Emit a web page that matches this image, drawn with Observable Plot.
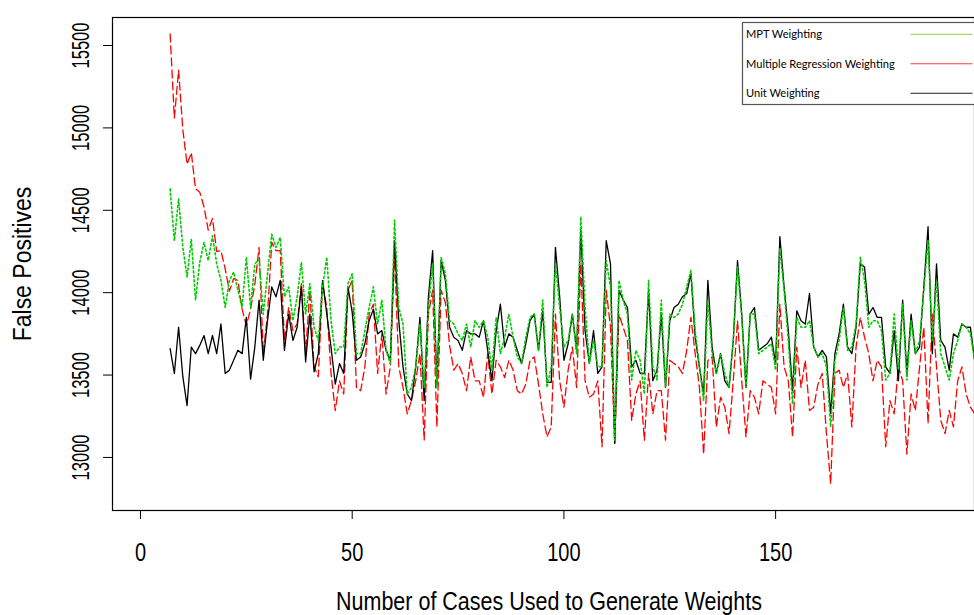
<!DOCTYPE html>
<html><head><meta charset="utf-8">
<script src="https://cdn.jsdelivr.net/npm/d3@7"></script>
<script src="https://cdn.jsdelivr.net/npm/@observablehq/plot@0.6"></script>
<style>
html,body{margin:0;padding:0;background:#fff;overflow:hidden;}
</style></head><body><div id="chart"></div>
<script>
// x = number of cases, starting at 7, one value per case
const xStart = 7;
// Multiple Regression Weighting (red dashed)
const regression = [15570,15060,15350,14990,14780,14850,14630,14610,14520,14380,14450,14250,14255,14145,14010,14085,14075,13900,13800,13900,14050,14275,13630,13870,14305,14255,14255,13710,13910,13770,13810,14055,13630,14015,13550,13490,14055,13910,13510,13285,13465,13385,14015,14075,13425,13405,13550,13870,13930,13510,13750,13385,13550,14235,13550,13425,13265,13345,13465,13630,13105,13870,14015,13185,14015,13940,13680,13530,13570,13510,13405,13610,13465,13465,13365,13630,13385,13590,13550,13485,13590,13530,13405,13385,13445,13590,13610,13445,13265,13125,13185,13870,13465,13305,13530,13670,13425,14175,13465,13365,13385,13465,13065,14015,13790,13085,13870,13790,13710,13225,13385,13465,13105,13510,13265,13405,13405,13105,13590,13570,13550,13510,13650,13850,13630,13425,13020,13590,13610,13185,13365,13305,13145,13465,13830,13465,13125,13405,13365,13265,13465,13445,13425,13265,13930,13550,13465,13125,13670,13425,13590,13285,13305,13445,13510,13145,12840,13510,13530,13425,13510,13185,13670,13850,13730,13630,13465,13590,13550,13065,13345,13265,13550,13465,13020,13385,13285,13550,13790,13205,13870,13550,13225,13145,13285,13185,13465,13550,13385,13305,13265];
// MPT Weighting (green dotted)
const mpt = [14630,14315,14570,14275,14095,14325,13955,14185,14305,14195,14345,14175,14075,13910,14075,14125,14015,13910,14215,13910,14175,14200,13870,14115,14355,14275,14335,13975,14035,13830,13975,14185,13870,14055,13790,13710,14035,14215,13830,13630,13670,13670,14055,14115,13630,13630,13770,13910,14035,13810,13955,13650,13570,14440,13910,13810,13385,13425,13550,13810,13425,13910,14175,13425,14215,14115,13830,13810,13750,13710,13810,13670,13830,13790,13830,13730,13530,13850,13630,13730,13870,13730,13610,13570,13730,13850,13870,13650,13955,13425,13550,14175,13910,13670,13710,13870,13630,14460,13910,13570,13710,13550,13550,14195,14035,13105,14075,13955,13870,13470,13650,13590,13385,14075,13550,13470,13955,13425,13870,13850,13870,13930,14035,14135,13770,13550,13345,13955,13630,13510,13630,13510,13425,13710,14155,13850,13425,13870,13870,13630,13650,13670,13690,13530,14270,14015,13710,13325,13850,13790,13790,13830,13670,13610,13630,13550,13185,13590,13710,13910,13650,13670,13810,14215,14075,13790,13830,13830,13770,13470,13510,13870,13530,13930,13470,13830,13630,13710,14015,14315,13710,14075,13630,13550,13470,13630,13710,13810,13790,13750,13590];
// Unit Weighting (black solid)
const unit = [13660,13510,13790,13490,13315,13670,13630,13680,13740,13630,13740,13630,13810,13510,13530,13590,13650,13630,13850,13475,13670,13955,13590,13830,14035,13975,14075,13650,13870,13710,13790,14035,13580,13870,13520,13630,14075,13870,13670,13445,13570,13510,14035,13880,13590,13610,13690,13830,13900,13750,13770,13650,13590,14315,13830,13550,13385,13345,13550,13850,13345,13975,14255,13445,14195,14075,13790,13730,13710,13650,13770,13750,13750,13730,13830,13650,13465,13770,13930,13670,13750,13730,13650,13570,13690,13830,13870,13650,13890,13455,13455,14275,13975,13590,13690,13870,13650,14380,13770,13570,13770,13510,13550,14315,14175,13085,14015,13955,13910,13550,13590,13510,13510,14015,13465,13530,13870,13425,13830,13910,13930,13975,13995,14115,13730,13550,13385,14075,13670,13510,13630,13465,13425,13710,14195,13870,13425,13870,13910,13650,13670,13690,13730,13570,14340,14035,13770,13405,13890,13830,13810,13995,13670,13610,13650,13610,13265,13630,13750,13930,13670,13630,13790,14175,14155,13870,13910,13850,13850,13550,13510,13770,13465,13955,13510,13870,13630,13670,14035,14400,13630,14175,13710,13670,13530,13750,13730,13810,13790,13790,13590];

const xTicks = [0, 50, 100, 150];
const yTicks = [13000, 13500, 14000, 14500, 15000, 15500];
const xTitle = "Number of Cases Used to Generate Weights";
const yTitle = "False Positives";
const legendLabels = ["MPT Weighting", "Multiple Regression Weighting", "Unit Weighting"];
const legendColors = ["#9acd32", "#ff3b3b", "#222222"];

const toRows = (arr) => arr.map((v, i) => ({x: xStart + i, y: v}));
const redRows = toRows(regression);
const greenRows = toRows(mpt);
const blackRows = toRows(unit);

const FONT = "'Liberation Sans', Arial, sans-serif";

const chart = Plot.plot({
  width: 974,
  height: 615,
  marginLeft: 112,
  marginRight: 0,
  marginTop: 17,
  marginBottom: 105,
  x: {domain: [-6.61, 196.97], ticks: xTicks, tickSize: 9, tickFormat: () => "", label: null},
  y: {domain: [12678, 15670], ticks: yTicks, tickSize: 9, tickFormat: () => "", label: null},
  style: {fontFamily: FONT, background: "#fff", color: "#000", overflow: "visible"},
  marks: [
    Plot.line(redRows, {x: "x", y: "y", stroke: "#ff0000", strokeWidth: 1.3, strokeDasharray: "8,4", clip: true}),
    Plot.line(blackRows, {x: "x", y: "y", stroke: "#000000", strokeWidth: 1.3, clip: true}),
    Plot.line(greenRows, {x: "x", y: "y", stroke: "#00cc00", strokeWidth: 1.6, strokeDasharray: "2,2.5", clip: true}),
    Plot.text(xTicks, {x: d => d, text: d => String(d), frameAnchor: "bottom", dy: 50, fontSize: 25, lineAnchor: "bottom", fill: "#000"}),
    Plot.text(yTicks, {y: d => d, text: d => String(d), frameAnchor: "left", dx: -24, rotate: -90, textAnchor: "middle", lineAnchor: "bottom", fontSize: 23, fill: "#000"}),
    Plot.text([xTitle], {frameAnchor: "bottom", dx: 5.5, dy: 99, text: d => d, fontSize: 25, lineAnchor: "bottom", fill: "#000"}),
    Plot.text([yTitle], {frameAnchor: "left", dx: -82, rotate: -90, text: d => d, fontSize: 25, lineAnchor: "bottom", textAnchor: "middle", fill: "#000"}),
    Plot.frame({stroke: "#000", strokeWidth: 1.2})
  ]
});
document.getElementById("chart").appendChild(chart);

// narrow the axis typography (the reference uses a condensed face)
const squeeze = {};
xTicks.forEach(t => squeeze[String(t)] = 0.80);
yTicks.forEach(t => squeeze[String(t)] = 0.72);
squeeze[xTitle] = 0.86;
squeeze[yTitle] = 0.92;
d3.select(chart).selectAll("text").each(function() {
  const el = this;
  const s = squeeze[el.textContent];
  if (!s) return;
  const x = el.getAttribute("x"), y = el.getAttribute("y");
  let t = el.getAttribute("transform") || "";
  if (x != null || y != null) {
    t = `translate(${x || 0},${y || 0}) ${t}`;
    el.removeAttribute("x"); el.removeAttribute("y");
  }
  el.setAttribute("transform", `${t} scale(${s},1)`);
});

// legend box (top right)
const svg = d3.select(chart);
const lg = svg.append("g").attr("font-family", "Lato, 'Noto Sans', sans-serif").attr("font-size", 11.1).attr("text-anchor", "start");
lg.append("rect").attr("x", 742.5).attr("y", 22.5).attr("width", 240).attr("height", 82)
  .attr("fill", "#fff").attr("stroke", "#555").attr("stroke-width", 1.2);
legendLabels.forEach((lab, i) => {
  const yy = 34.3 + i * 29.5;
  lg.append("text").attr("x", 746).attr("y", yy + 4).attr("fill", "#000").attr("text-anchor", "start").text(lab);
  lg.append("line").attr("x1", 910.5).attr("x2", 972.5).attr("y1", yy).attr("y2", yy)
    .attr("stroke", legendColors[i]).attr("stroke-width", 1.1);
});
</script>
</body></html>
